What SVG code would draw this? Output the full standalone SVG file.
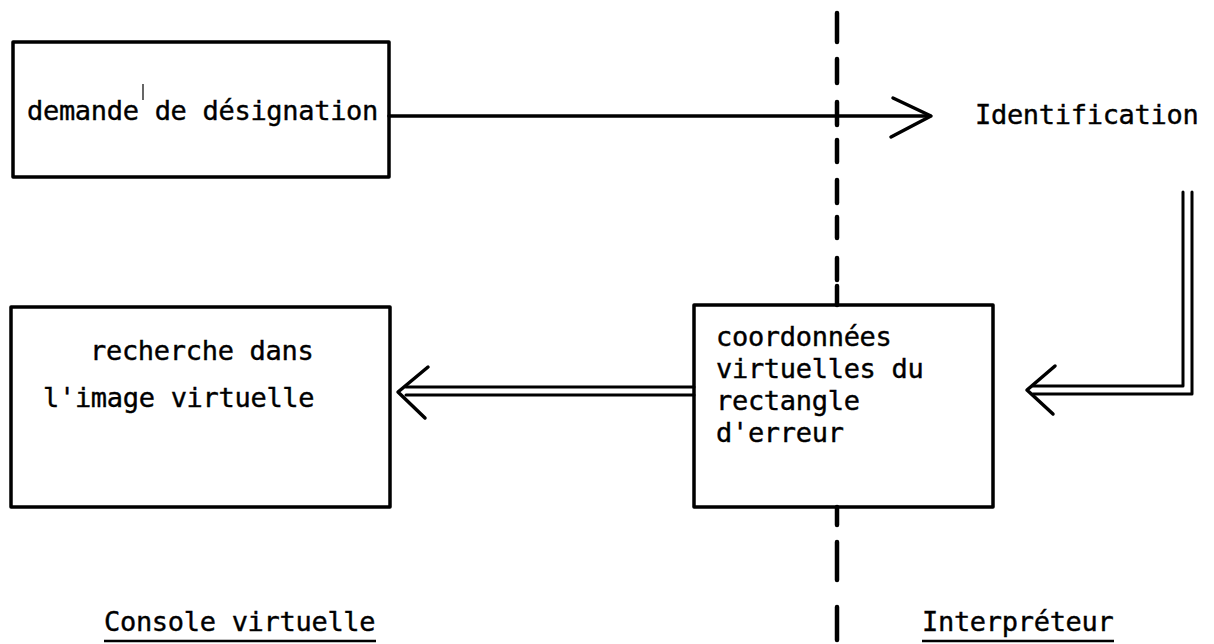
<svg xmlns="http://www.w3.org/2000/svg" width="1214" height="644" viewBox="0 0 1214 644">
  <style>
    .box { fill: none; stroke: #000; stroke-width: 3.5; stroke-linejoin: round; }
    .line { fill: none; stroke: #000; stroke-width: 3.5; stroke-linecap: round; stroke-linejoin: round; }
    .thin { fill: none; stroke: #000; stroke-width: 3; stroke-linecap: round; stroke-linejoin: round; }
    .dash { stroke: #000; stroke-width: 4.5; stroke-linecap: round; }
    .t { font-family: "DejaVu Sans Mono", "Liberation Mono", monospace; font-size: 27px; letter-spacing: -0.3px; fill: #000; stroke: #000; stroke-width: 0.4; }
  </style>
  <rect width="1214" height="644" fill="#fff"/>

  <!-- partition line between the two modules -->
  <g id="separator">
    <line class="dash" x1="837" y1="13" x2="837" y2="42"/>
    <line class="dash" x1="837" y1="59" x2="837" y2="83"/>
    <line class="dash" x1="837" y1="102" x2="837" y2="125"/>
    <line class="dash" x1="837" y1="140" x2="837" y2="162"/>
    <line class="dash" x1="837" y1="180" x2="837" y2="203"/>
    <line class="dash" x1="837" y1="217" x2="837" y2="238"/>
    <line class="dash" x1="837" y1="258" x2="837" y2="280"/>
    <line class="dash" x1="837" y1="286" x2="837" y2="305"/>
    <line class="dash" x1="837" y1="507" x2="837" y2="525"/>
    <line class="dash" x1="837" y1="542" x2="837" y2="580"/>
    <line class="dash" x1="837" y1="607" x2="837" y2="640"/>
  </g>

  <g id="demande">
    <rect class="box" x="13" y="42" width="376" height="135"/>
    <text class="t" x="27" y="120">demande de désignation</text>
    <line x1="143" y1="84" x2="143" y2="100" stroke="#000" stroke-width="1.2"/>
  </g>

  <g id="identification">
    <text class="t" x="975" y="124">Identification</text>
  </g>

  <g id="recherche">
    <rect class="box" x="11" y="307" width="379" height="200"/>
    <text class="t" x="90" y="360">recherche dans</text>
    <text class="t" x="43" y="407">l'image virtuelle</text>
  </g>

  <g id="coordonnees">
    <rect class="box" x="694" y="305" width="299" height="202"/>
    <text class="t" x="716" y="346">coordonnées</text>
    <text class="t" x="716" y="378">virtuelles du</text>
    <text class="t" x="716" y="410">rectangle</text>
    <text class="t" x="716" y="442">d'erreur</text>
  </g>

  <g id="connectors">
    <!-- demande -> Identification -->
    <line class="line" x1="389" y1="116" x2="930" y2="116"/>
    <polyline class="line" points="893,98 931,116 891,137"/>
    <!-- Identification -> coordonnees (double line) -->
    <polyline class="thin" points="1183,192 1183,386 1033,386"/>
    <polyline class="thin" points="1192,192 1192,394 1033,394"/>
    <polyline class="line" points="1055,366 1027,390 1053,414"/>
    <!-- coordonnees -> recherche (double line) -->
    <line class="thin" x1="694" y1="387" x2="406" y2="387"/>
    <line class="thin" x1="694" y1="395" x2="406" y2="395"/>
    <polyline class="line" points="428,367 398,392 425,418"/>
  </g>

  <g id="labels">
    <text class="t" x="104" y="631">Console virtuelle</text>
    <line x1="104" y1="641" x2="376" y2="641" stroke="#000" stroke-width="2.5"/>
    <text class="t" x="922" y="631">Interpréteur</text>
    <line x1="922" y1="641" x2="1114" y2="641" stroke="#000" stroke-width="2.5"/>
  </g>
</svg>
